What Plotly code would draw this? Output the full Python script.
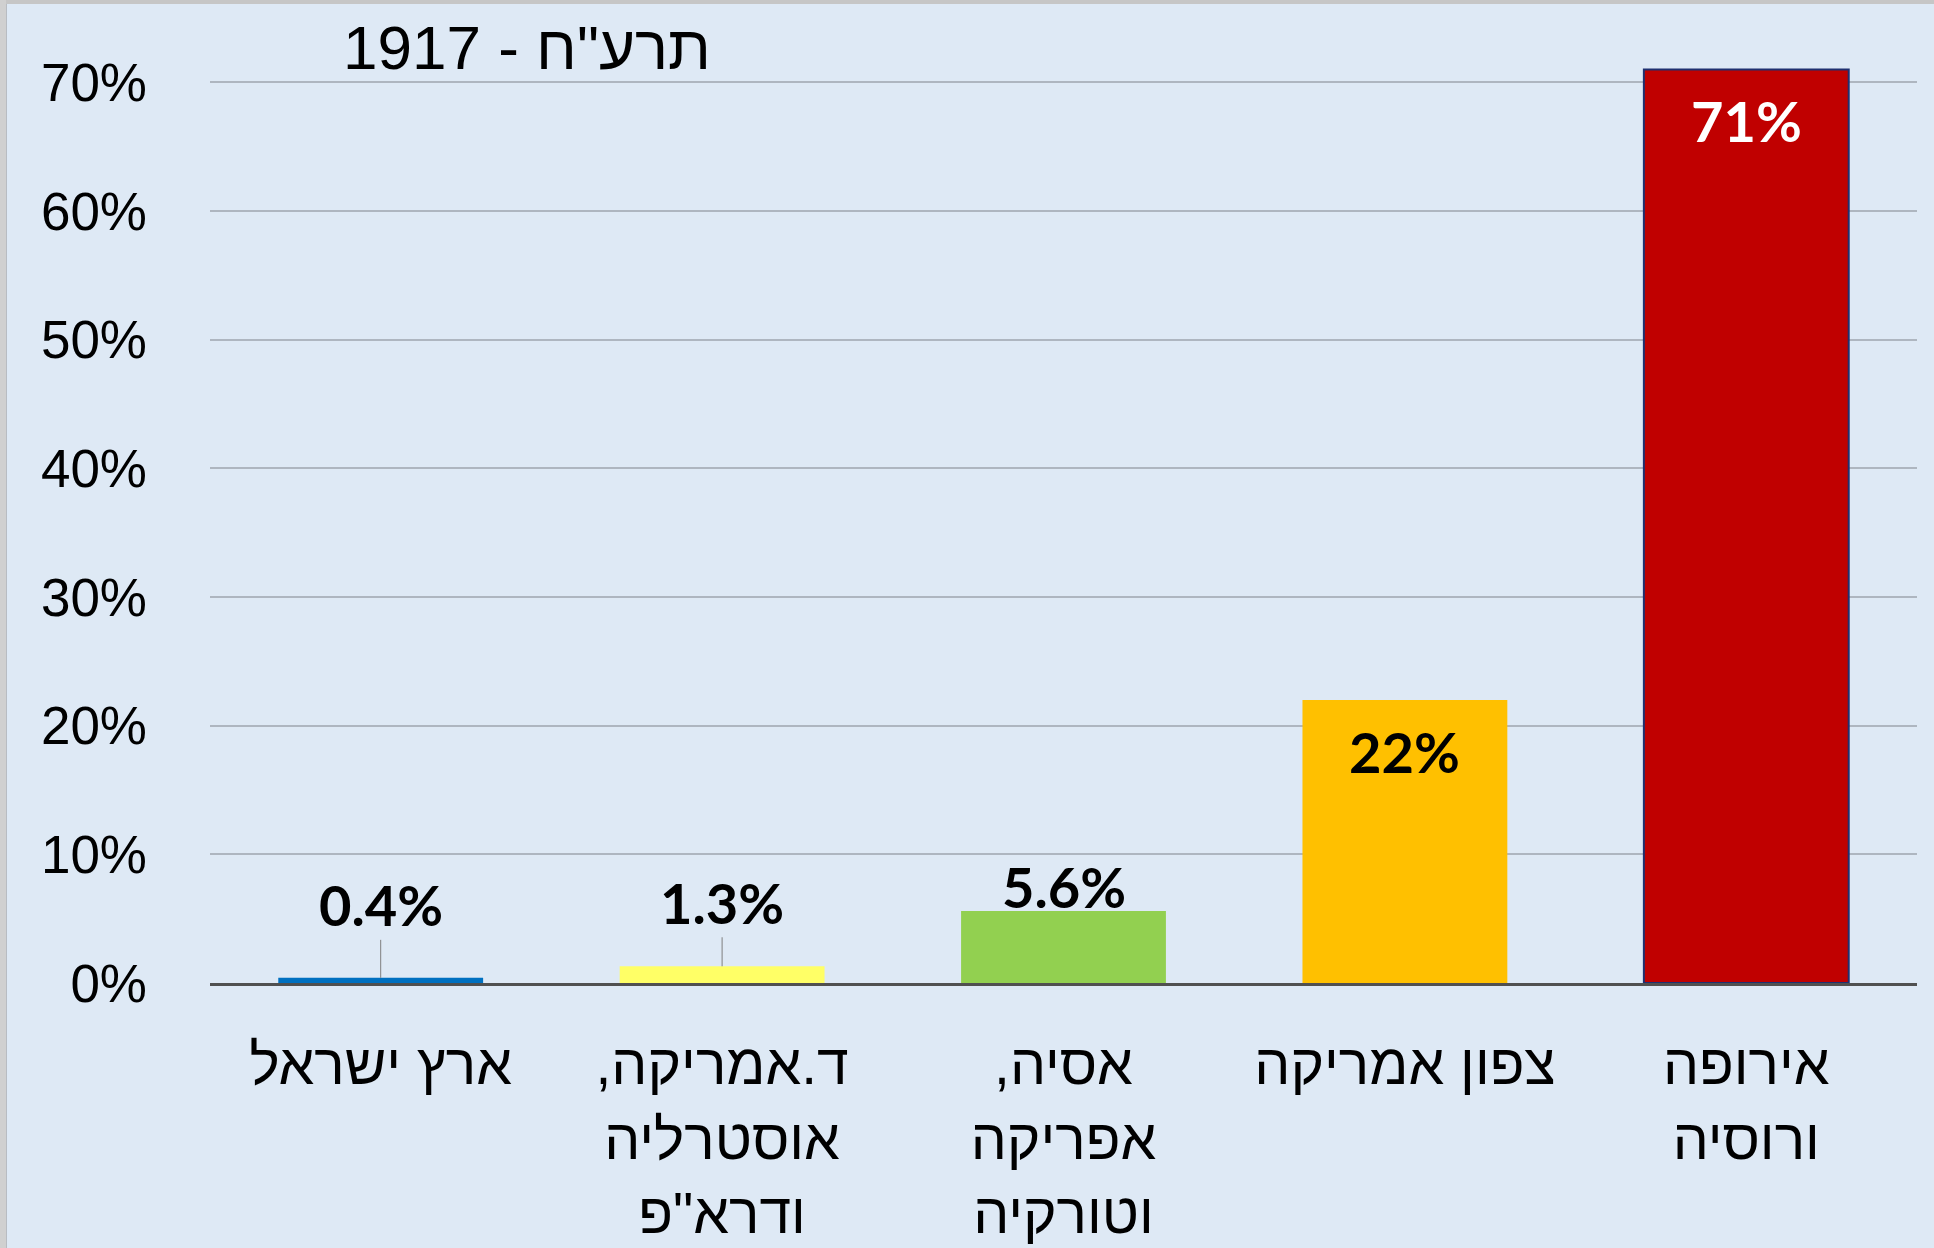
import plotly.graph_objects as go

# ---- data ----
categories = [
    "ארץ ישראל",
    "ד.אמריקה,\u200f<br>אוסטרליה<br>ודרא\"פ",
    "אסיה,\u200f<br>אפריקה<br>וטורקיה",
    "צפון אמריקה",
    "אירופה<br>ורוסיה",
]
values = [0.4, 1.3, 5.6, 22, 71]
value_labels = ["0.4%", "1.3%", "5.6%", "22%", "71%"]
bar_colors = ["#0070C0", "#FFFF66", "#92D050", "#FFC000", "#C00000"]
bar_outline = ["rgba(0,0,0,0)", "rgba(0,0,0,0)", "rgba(0,0,0,0)", "rgba(0,0,0,0)", "#1F3070"]
y_tickvals = [0, 10, 20, 30, 40, 50, 60, 70]
y_ticktext = ["0%", "10%", "20%", "30%", "40%", "50%", "60%", "70%"]
title_text = "1917 - תרע\"ח"

# label placement style: (kind, offset)
label_style = [("leader", -73), ("leader", -64), ("above", 24), ("inside", -52), ("inside", -51)]
label_colors = ["#000000", "#000000", "#000000", "#000000", "#FFFFFF"]

BG = "#DEE9F5"
LABEL_FONT = "Lato, Open Sans, sans-serif"
SANS = "Liberation Sans, Arial, sans-serif"

W, H = 1934, 1248
ML, MR, MT, MB = 210, 17, 18, 265
PW, PH = W - ML - MR, H - MT - MB

fig = go.Figure()
fig.add_trace(go.Bar(
    x=categories,
    y=values,
    marker=dict(color=bar_colors, line=dict(color=bar_outline, width=2)),
    hoverinfo="skip",
))

annotations = []
for cat, v, lab, (kind, off), col in zip(categories, values, value_labels, label_style, label_colors):
    if kind == "leader":
        annotations.append(dict(
            x=cat, y=v, xref="x", yref="y", text=f"<b>{lab}</b>",
            showarrow=True, arrowhead=0, arrowwidth=1, arrowcolor="#7F7F7F",
            ax=0, ay=off, font=dict(family=LABEL_FONT, size=56, color=col),
        ))
    else:
        annotations.append(dict(
            x=cat, y=v, xref="x", yref="y", text=f"<b>{lab}</b>",
            showarrow=False, yshift=off, yanchor="middle",
            font=dict(family=LABEL_FONT, size=56, color=col),
        ))

fig.update_layout(
    width=W, height=H,
    paper_bgcolor=BG, plot_bgcolor=BG,
    margin=dict(l=ML, r=MR, t=MT, b=MB, autoexpand=False),
    bargap=0.4,
    showlegend=False,
    title=dict(
        text=title_text, x=527 / W, xanchor="center", y=1 - 47 / H, yanchor="middle",
        font=dict(family=SANS, size=62, color="#000000"),
    ),
    annotations=annotations,
    shapes=[
        dict(type="rect", xref="paper", yref="paper",
             x0=-ML / PW, x1=1 + MR / PW, y0=1 + (MT - 4) / PH, y1=1 + MT / PH,
             fillcolor="#C6C6C6", line=dict(width=0), layer="above"),
        dict(type="rect", xref="paper", yref="paper",
             x0=-ML / PW, x1=-(ML - 6) / PW, y0=-MB / PH, y1=1 + MT / PH,
             fillcolor="#D0D0D0", line=dict(width=0), layer="above"),
        dict(type="rect", xref="paper", yref="paper",
             x0=-(ML - 6) / PW, x1=-(ML - 7) / PW, y0=-MB / PH, y1=1 + (MT - 4) / PH,
             fillcolor="#B8BCC2", line=dict(width=0), layer="above"),
    ],
)

fig.update_yaxes(
    range=[0, 75], tickvals=y_tickvals, ticktext=y_ticktext,
    showgrid=True, gridcolor="#AEB6C0", gridwidth=2,
    zeroline=False, showline=False, automargin=False,
    ticks="", ticklabelstandoff=62,
    tickfont=dict(family=SANS, size=53, color="#000000"),
)
fig.update_xaxes(
    showline=True, linecolor="#505050", linewidth=3, automargin=False,
    ticks="", ticklabelstandoff=30,
    tickfont=dict(family=SANS, size=57, color="#000000"),
)

fig.write_html(
    "out.html",
    config={"displayModeBar": False},
    post_script="document.body.style.margin='0';document.body.style.overflow='hidden';",
)
